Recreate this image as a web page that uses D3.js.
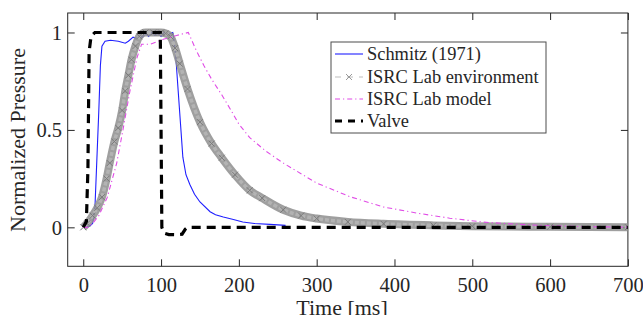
<!DOCTYPE html>
<html>
<head>
<meta charset="utf-8">
<script src="https://cdn.jsdelivr.net/npm/d3@7"></script>
<style>
  html, body { margin: 0; padding: 0; background: #fff; }
  svg { display: block; }
  text { font-family: "Liberation Serif", "Times New Roman", serif; fill: #262626; }
</style>
</head>
<body>
<svg id="chart" width="643" height="315"></svg>
<script>
// ---------- data ----------
const timeTicks = [0, 100, 200, 300, 400, 500, 600, 700];
const pressureTicks = [0, 0.5, 1];
const pressureTickLabels = ["0", "0.5", "1"];

const schmitzTime  = [0,8,12,15,18,20,22,24,28,35,45,54,58,64,68,72,76,80,84,88,92,96,100,104,108,112,115,117,119,122,125,128,132,137,143,150,163,170,180,193,205,220,240,260];
const schmitzValue = [0,0.005,0.02,0.1,0.4,0.6,0.83,0.93,0.955,0.96,0.955,0.945,0.955,0.976,0.97,0.985,0.975,0.995,0.98,1.0,0.985,0.995,0.98,1.0,0.99,0.995,1.0,0.95,0.87,0.7,0.53,0.36,0.27,0.22,0.17,0.13,0.08,0.065,0.053,0.04,0.027,0.02,0.015,0.01];

const envTime  = [0,5,12,18,24,30,34,40,45,50,54,58,62,67,72,80,90,100,106,112,118,124,134,150,165,178,195,214,230,257,280,300,340,386,450,500,600,700];
const envValue = [0,0.02,0.06,0.1,0.155,0.25,0.33,0.44,0.51,0.6,0.7,0.78,0.86,0.93,0.98,1.0,1.0,1.0,0.995,0.98,0.92,0.84,0.71,0.54,0.43,0.357,0.27,0.19,0.15,0.09,0.06,0.045,0.028,0.018,0.01,0.006,0.003,0.001];

const modelTime  = [0,6,12,20,31,43,51,60,69,75,86,103,120,135,145,155,165,178,190,200,214,235,257,300,343,385,429,471,514,557,600,650,700];
const modelValue = [0,0,0.02,0.06,0.155,0.33,0.5,0.7,0.87,0.94,0.94,0.965,0.985,1.0,0.91,0.83,0.76,0.68,0.6,0.53,0.46,0.39,0.33,0.227,0.157,0.105,0.073,0.047,0.027,0.016,0.008,0.003,0.001];

const valveTime  = [0,4,6,7.5,10,15,99,100,101,104,110,120,127,131,134,700];
const valveValue = [0,0.03,0.3,0.9,0.98,1,1,0.5,0,-0.03,-0.037,-0.038,-0.035,-0.01,0,0];

const seriesNames = ["Schmitz (1971)", "ISRC Lab environment", "ISRC Lab model", "Valve"];

// ---------- layout ----------
const svg = d3.select("#chart");
const L = 67.7, R = 627.9, T = 13.0, B = 266.3;
const x = d3.scaleLinear().domain([-20, 700]).range([L, R]);
const y = d3.scaleLinear().domain([-0.2, 1.1]).range([B, T]);

const zip = (ts, vs) => ts.map((t, i) => [t, vs[i]]);

svg.append("defs").append("clipPath").attr("id", "clip")
  .append("rect").attr("x", L).attr("y", T).attr("width", R - L).attr("height", B - T);

// ---------- axes ----------
const tickLen = 7;
const fontTick = "20.5px";

const xBottom = svg.append("g").attr("transform", `translate(0,${B})`)
  .call(d3.axisBottom(x).tickValues(timeTicks).tickSizeInner(-tickLen).tickSizeOuter(0).tickFormat(d3.format("d")));
const xTop = svg.append("g").attr("transform", `translate(0,${T})`)
  .call(d3.axisTop(x).tickValues(timeTicks).tickSizeInner(-tickLen).tickSizeOuter(0).tickFormat(""));
const yLeft = svg.append("g").attr("transform", `translate(${L},0)`)
  .call(d3.axisLeft(y).tickValues(pressureTicks).tickSizeInner(-tickLen).tickSizeOuter(0)
    .tickFormat((d, i) => pressureTickLabels[i]));
const yRight = svg.append("g").attr("transform", `translate(${R},0)`)
  .call(d3.axisRight(y).tickValues(pressureTicks).tickSizeInner(-tickLen).tickSizeOuter(0).tickFormat(""));

[xBottom, xTop, yLeft, yRight].forEach(g => {
  g.select(".domain").remove();
  g.selectAll(".tick line").attr("stroke", "#262626").attr("stroke-width", 1);
});
xBottom.selectAll(".tick text")
  .attr("y", 25.7).attr("dy", null)
  .attr("font-size", fontTick).attr("fill", "#262626")
  .style("font-family", '"Liberation Serif", "Times New Roman", serif');
yLeft.selectAll(".tick text")
  .attr("x", -5.7).attr("dy", "0.34em")
  .attr("font-size", fontTick).attr("fill", "#262626")
  .style("font-family", '"Liberation Serif", "Times New Roman", serif');

// frame
svg.append("rect").attr("x", L).attr("y", T).attr("width", R - L).attr("height", B - T)
  .attr("fill", "none").attr("stroke", "#262626").attr("stroke-width", 1);

// axis labels (the reference label sits at the very bottom edge)
svg.append("text").attr("x", 342).attr("y", 315)
  .attr("text-anchor", "middle").attr("font-size", "22px").text("Time [ms]");
svg.append("text").attr("transform", "translate(25,140) rotate(-90)")
  .attr("text-anchor", "middle").attr("font-size", "22px").text("Normalized Pressure");

// ---------- lines ----------
const plot = svg.append("g").attr("clip-path", "url(#clip)");
const line = d3.line().x(d => x(d[0])).y(d => y(d[1]));
const smooth = d3.line().x(d => x(d[0])).y(d => y(d[1])).curve(d3.curveMonotoneX);

const schmitz = zip(schmitzTime, schmitzValue);
const env = zip(envTime, envValue);
const model = zip(modelTime, modelValue);
const valve = zip(valveTime, valveValue);

plot.append("path").datum(schmitz).attr("d", line)
  .attr("fill", "none").attr("stroke", "#1f1fff").attr("stroke-width", 1.1);

// environment: thick band of dense x markers
plot.append("path").datum(env).attr("d", smooth)
  .attr("fill", "none").attr("stroke", "#8e8e8e").attr("stroke-width", 8)
  .attr("stroke-opacity", 0.85).attr("stroke-linejoin", "round");
plot.append("path").datum(env).attr("d", smooth)
  .attr("fill", "none").attr("stroke", "#b3b3b3").attr("stroke-width", 3.5)
  .attr("stroke-dasharray", "4,2");
const ms = 3;
plot.selectAll(".envmark").data(env).join("path").attr("class", "envmark")
  .attr("d", d => {
    const cx = x(d[0]), cy = y(d[1]);
    return `M${cx - ms},${cy - ms}L${cx + ms},${cy + ms}M${cx - ms},${cy + ms}L${cx + ms},${cy - ms}`;
  })
  .attr("stroke", "#7a7a7a").attr("stroke-width", 1).attr("fill", "none");

plot.append("path").datum(model).attr("d", line)
  .attr("fill", "none").attr("stroke", "#e04be6").attr("stroke-width", 1.1)
  .attr("stroke-dasharray", "5,3,1.2,3");

plot.append("path").datum(valve).attr("d", line)
  .attr("fill", "none").attr("stroke", "#000").attr("stroke-width", 3.2)
  .attr("stroke-dasharray", "9,6");

// ---------- legend ----------
const lg = svg.append("g");
lg.append("rect").attr("x", 331).attr("y", 42).attr("width", 215).attr("height", 91)
  .attr("fill", "#fff").attr("stroke", "#4d4d4d").attr("stroke-width", 1);
const rowY = [54, 77, 99, 121];
const lx0 = 335, lx1 = 363;
const styles = [
  {stroke: "#1f1fff", width: 1.1, dash: null},
  {stroke: "#bdbdbd", width: 1.2, dash: "6,6"},
  {stroke: "#e04be6", width: 1.1, dash: "5,3,1.2,3"},
  {stroke: "#000", width: 3.2, dash: "7,6"}
];
seriesNames.forEach((name, i) => {
  const yy = rowY[i];
  lg.append("line").attr("x1", lx0).attr("x2", lx1).attr("y1", yy).attr("y2", yy)
    .attr("stroke", styles[i].stroke).attr("stroke-width", styles[i].width)
    .attr("stroke-dasharray", styles[i].dash);
  if (i === 1) {
    const cx = (lx0 + lx1) / 2, s = 3;
    lg.append("path")
      .attr("d", `M${cx - s},${yy - s}L${cx + s},${yy + s}M${cx - s},${yy + s}L${cx + s},${yy - s}`)
      .attr("stroke", "#9a9a9a").attr("stroke-width", 1);
  }
  lg.append("text").attr("x", 367).attr("y", yy).attr("dy", "0.33em")
    .attr("font-size", "18.4px").attr("fill", "#111").text(name);
});
</script>
</body>
</html>
